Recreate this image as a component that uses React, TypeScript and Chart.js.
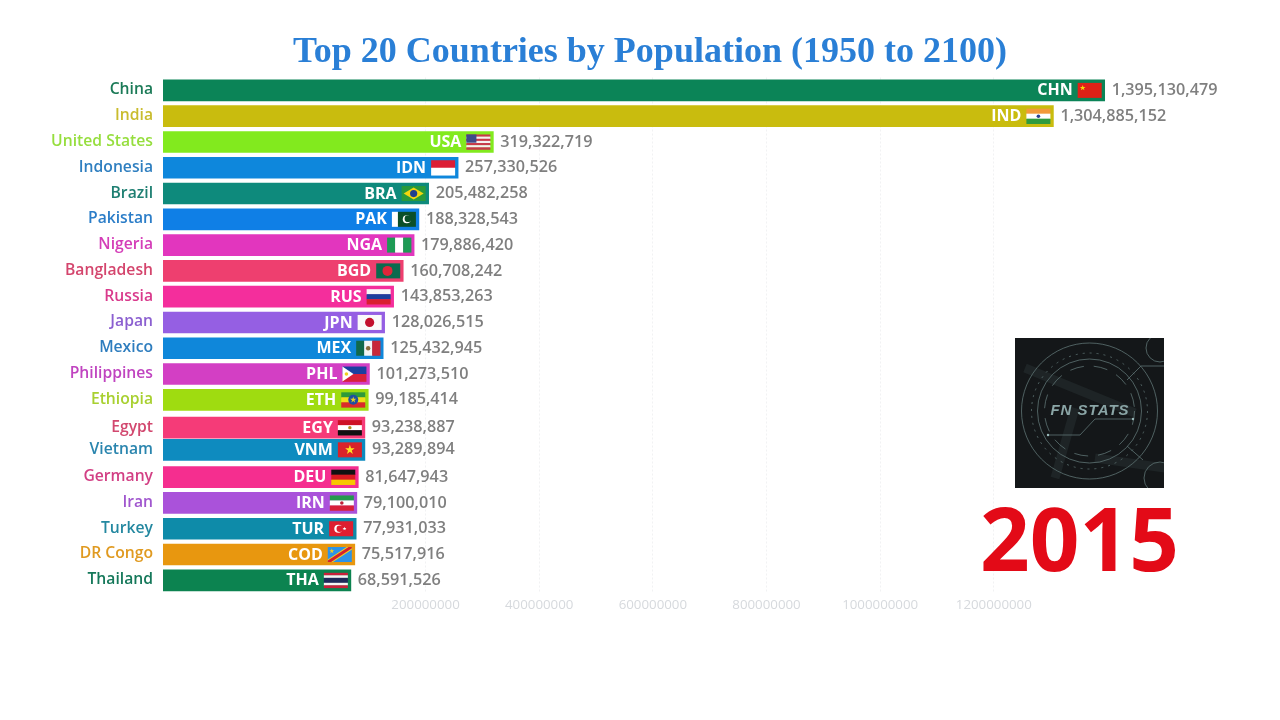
import React, { useEffect, useRef } from "react";
import { Chart, registerables } from "chart.js";

Chart.register(...registerables);

const countries = ["China","India","United States","Indonesia","Brazil","Pakistan","Nigeria","Bangladesh","Russia","Japan","Mexico","Philippines","Ethiopia","Egypt","Vietnam","Germany","Iran","Turkey","DR Congo","Thailand"];
const codes = ["CHN","IND","USA","IDN","BRA","PAK","NGA","BGD","RUS","JPN","MEX","PHL","ETH","EGY","VNM","DEU","IRN","TUR","COD","THA"];
const populations = [1395130479,1304885152,319322719,257330526,205482258,188328543,179886420,160708242,143853263,128026515,125432945,101273510,99185414,93238887,93289894,81647943,79100010,77931033,75517916,68591526];
const ranks = [1,2,3,4,5,6,7,8,9,10,11,12,13,14.08,14.94,16,17,18,19,20];
const barColors = ["#0B8457","#C9BC0E","#82EA1E","#0E87DC","#0E8A7C","#0F7FE6","#E236BE","#EE3F6F","#F42E9C","#955FE3","#0F87DA","#D33FC4","#9FDC10","#F53B78","#0E8BBF","#F52E8F","#AA52DA","#0E8BA9","#E8970F","#0C8350"];
const labelColors = ["#1B7A57","#C9BC2E","#96DE3E","#2F7FC0","#1E7F72","#2B7DC8","#D43DB8","#D4456D","#D93A8C","#8B5FD0","#2E7DBE","#C044C0","#A8D030","#D2486F","#2A85AE","#D23F84","#A056CE","#2488A0","#E09A20","#15785A"];
const axisTicks = [200000000,400000000,600000000,800000000,1000000000,1200000000];
const titleText = "Top 20 Countries by Population (1950 to 2100)";
const yearText = "2015";
const logoText = "FN STATS";
const FONT = '"Open Sans", sans-serif';

type C = CanvasRenderingContext2D;

function hs(c: C, cols: string[], x: number, y: number, w: number, h: number, weights?: number[]) {
  const wts = weights || cols.map(() => 1);
  const tot = wts.reduce((a, b) => a + b, 0);
  let p = y;
  cols.forEach((col, i) => { const d = (h * wts[i]) / tot; c.fillStyle = col; c.fillRect(x, p, w, d + 0.3); p += d; });
}
function vs(c: C, cols: string[], x: number, y: number, w: number, h: number) {
  const d = w / cols.length;
  cols.forEach((col, i) => { c.fillStyle = col; c.fillRect(x + i * d, y, d + 0.3, h); });
}
function dot(c: C, col: string, x: number, y: number, r: number) { c.fillStyle = col; c.beginPath(); c.arc(x, y, r, 0, Math.PI * 2); c.fill(); }
function star(c: C, col: string, x: number, y: number, r: number) {
  c.fillStyle = col; c.beginPath();
  for (let i = 0; i < 10; i++) { const a = -Math.PI / 2 + (i * Math.PI) / 5; const q = i % 2 ? r * 0.4 : r; c.lineTo(x + q * Math.cos(a), y + q * Math.sin(a)); }
  c.closePath(); c.fill();
}
function poly(c: C, col: string, pts: number[][]) { c.fillStyle = col; c.beginPath(); pts.forEach((p) => c.lineTo(p[0], p[1])); c.closePath(); c.fill(); }

function drawFlag(c: C, code: string, x: number, y: number, w: number, h: number) {
  const cx = x + w / 2, cy = y + h / 2;
  switch (code) {
    case "CHN": c.fillStyle = "#DE2117"; c.fillRect(x, y, w, h); star(c, "#F5D90A", x + 5, y + 5, 3); break;
    case "IND": hs(c, ["#F29A3A", "#FFFFFF", "#2E9B3E"], x, y, w, h); dot(c, "#2A3F8F", cx, cy, 1.8); break;
    case "USA": hs(c, ["#C8384A", "#F5F0F0", "#C8384A", "#F5F0F0", "#C8384A", "#F5F0F0", "#C8384A"], x, y, w, h); c.fillStyle = "#3F4A8A"; c.fillRect(x, y, w * 0.42, h * 0.55); break;
    case "IDN": hs(c, ["#DC1E35", "#FFFFFF"], x, y, w, h); break;
    case "BRA": c.fillStyle = "#2A9A3A"; c.fillRect(x, y, w, h); poly(c, "#F3D60F", [[x + 2, cy], [cx, y + 1.5], [x + w - 2, cy], [cx, y + h - 1.5]]); dot(c, "#1F3F8F", cx, cy, 3.6); break;
    case "PAK": vs(c, ["#FFFFFF"], x, y, w * 0.25, h); c.fillStyle = "#0B4F2A"; c.fillRect(x + w * 0.25, y, w * 0.75, h); dot(c, "#FFFFFF", x + w * 0.62, cy, 4); dot(c, "#0B4F2A", x + w * 0.67, cy - 0.6, 3.4); break;
    case "NGA": vs(c, ["#1E9A55", "#FFFFFF", "#1E9A55"], x, y, w, h); break;
    case "BGD": c.fillStyle = "#0B6A4E"; c.fillRect(x, y, w, h); dot(c, "#E0263A", x + w * 0.47, cy, 5); break;
    case "RUS": hs(c, ["#F7F7F7", "#1B3F9C", "#D92030"], x, y, w, h); break;
    case "JPN": c.fillStyle = "#FAFAFA"; c.fillRect(x, y, w, h); dot(c, "#C2102E", cx, cy, 4.6); break;
    case "MEX": vs(c, ["#11694A", "#F4F4F4", "#C7283A"], x, y, w, h); dot(c, "#8A6A3A", cx, cy, 2.2); break;
    case "PHL": hs(c, ["#1B3FA0", "#D8203A"], x, y, w, h); poly(c, "#FFFFFF", [[x, y], [x + w * 0.46, cy], [x, y + h]]); dot(c, "#F0D020", x + 4, cy, 1.8); break;
    case "ETH": hs(c, ["#2E9A3A", "#F2DE1A", "#DA2A2A"], x, y, w, h); dot(c, "#1E4FA0", cx, cy, 5); star(c, "#E8D020", cx, cy, 3.2); break;
    case "EGY": hs(c, ["#CE1126", "#FFFFFF", "#111111"], x, y, w, h); dot(c, "#B08A20", cx, cy, 1.7); break;
    case "VNM": c.fillStyle = "#D8232A"; c.fillRect(x, y, w, h); star(c, "#FBE122", cx, cy, 5); break;
    case "DEU": hs(c, ["#111111", "#D91A20", "#F7C600"], x, y, w, h); break;
    case "IRN": hs(c, ["#259A4E", "#FFFFFF", "#D8203A"], x, y, w, h); dot(c, "#C0203A", cx, cy, 1.8); break;
    case "TUR": c.fillStyle = "#DE1E30"; c.fillRect(x, y, w, h); dot(c, "#FFFFFF", x + w * 0.38, cy, 4); dot(c, "#DE1E30", x + w * 0.44, cy, 3.2); star(c, "#FFFFFF", x + w * 0.64, cy, 2); break;
    case "COD":
      c.fillStyle = "#2D93E8"; c.fillRect(x, y, w, h);
      c.save(); c.beginPath(); c.rect(x, y, w, h); c.clip();
      c.strokeStyle = "#F5D020"; c.lineWidth = 5; c.beginPath(); c.moveTo(x - 1, y + h + 1); c.lineTo(x + w + 1, y - 1); c.stroke();
      c.strokeStyle = "#D3202E"; c.lineWidth = 3; c.beginPath(); c.moveTo(x - 1, y + h + 1); c.lineTo(x + w + 1, y - 1); c.stroke();
      c.restore(); star(c, "#F5D020", x + 4, y + 4, 2.6); break;
    case "THA": hs(c, ["#C8203A", "#F5F5F5", "#1E2A5A", "#F5F5F5", "#C8203A"], x, y, w, h, [1, 1, 2, 1, 1]); break;
  }
}

const barAnnotations = {
  id: "barAnnotations",
  afterDatasetsDraw(chart: any) {
    const c: C = chart.ctx;
    const meta = chart.getDatasetMeta(0);
    c.save();
    meta.data.forEach((el: any, i: number) => {
      const bx = el.x, by = el.y;
      const fw = 24, fh = 15;
      const fx = bx - 3 - fw;
      drawFlag(c, codes[i], fx, by - fh / 2, fw, fh);
      c.textBaseline = "middle";
      c.textAlign = "right";
      c.fillStyle = "#FFFFFF";
      c.font = `bold 16px ${FONT}`;
      c.fillText(codes[i], fx - 5, by + 0.5);
      c.textAlign = "left";
      c.fillStyle = "#7F7F7F";
      c.font = `600 16.2px ${FONT}`;
      c.fillText(populations[i].toLocaleString("en-US"), bx + 7, by);
    });
    c.restore();
  },
};

const decorations = {
  id: "decorations",
  afterDraw(chart: any) {
    const c: C = chart.ctx;
    c.save();
    const x = 1015, y = 338, s = 149;
    const cx = x + s * 0.5, cy = y + s * 0.49;
    c.fillStyle = "#141719";
    c.fillRect(x, y, s, s + 1);
    c.save(); c.beginPath(); c.rect(x, y, s, s + 1); c.clip();
    c.strokeStyle = "rgba(70,90,90,0.2)"; c.lineWidth = 9;
    c.beginPath(); c.moveTo(x + 10, y + 30); c.lineTo(x + 120, y + 75); c.moveTo(x + 40, y + 140); c.lineTo(x + 60, y + 70); c.moveTo(x + 80, y + 120); c.lineTo(x + 150, y + 130); c.stroke();
    c.strokeStyle = "#5E7474"; c.lineWidth = 0.8;
    [[68, []], [58, [2, 5]], [52, []], [45, [14, 10]]].forEach(([r, d]: any) => { c.setLineDash(d); c.beginPath(); c.arc(cx, cy, r, 0, Math.PI * 2); c.stroke(); });
    c.setLineDash([]);
    c.beginPath(); c.moveTo(x + 33, y + 97); c.lineTo(x + 65, y + 97); c.lineTo(x + 80, y + 81); c.lineTo(x + 118, y + 81); c.stroke();
    dot(c, "#9ABABA", x + 33, y + 97, 1.2); dot(c, "#9ABABA", x + 118, y + 81, 1.2);
    c.beginPath(); c.moveTo(x + 112, y + 42); c.lineTo(x + 126, y + 28); c.lineTo(x + 149, y + 28); c.moveTo(x + 112, y + 108); c.lineTo(x + 128, y + 122); c.stroke();
    c.beginPath(); c.arc(x + 145, y + 10, 14, 0, Math.PI * 2); c.stroke();
    c.beginPath(); c.arc(x + 145, y + 140, 16, 0, Math.PI * 2); c.stroke();
    c.restore();
    c.fillStyle = "#8AA5A6"; c.textAlign = "center"; c.textBaseline = "middle";
    c.font = `italic bold 15px "Liberation Sans", sans-serif`;
    (c as any).letterSpacing = "1px";
    c.fillText(logoText, x + 75, y + 72.5);
    (c as any).letterSpacing = "0px";
    c.fillStyle = "#E30A17";
    c.font = `bold 87px ${FONT}`;
    c.textAlign = "center"; c.textBaseline = "alphabetic";
    c.fillText(yearText, 1079.5, 571);
    c.restore();
  },
};

const noPadding = (s: any) => { s.paddingTop = 0; s.paddingBottom = 0; s.paddingLeft = 0; s.paddingRight = 0; };

export default function App() {
  const ref = useRef<HTMLCanvasElement>(null);
  useEffect(() => {
    const chart = new Chart(ref.current as HTMLCanvasElement, {
      type: "bar",
      data: {
        datasets: [{
          data: populations.map((v, i) => ({ x: v, y: ranks[i] })),
          backgroundColor: barColors,
          borderWidth: 0,
          barThickness: 21,
          base: -262000000,
        } as any],
      },
      options: {
        indexAxis: "y",
        responsive: false,
        animation: false,
        layout: { padding: { right: 143 } },
        plugins: {
          legend: { display: false },
          tooltip: { enabled: false },
          title: {
            display: true,
            text: titleText,
            fullSize: false,
            color: "#2A7FD6",
            font: { family: '"Liberation Serif", serif', size: 36, weight: "bold" },
            padding: { top: 31.4, bottom: 2.9 },
          },
        },
        scales: {
          x: {
            type: "linear",
            min: -262000000,
            max: 1452000000,
            afterBuildTicks: (s: any) => { s.ticks = axisTicks.map((value) => ({ value })); },
            afterFit: (s: any) => { s.height = 126.8; noPadding(s); },
            grid: { color: "#F1F2F3", drawTicks: false, tickBorderDash: [2, 2] },
            border: { display: false, dash: [2, 2] },
            ticks: {
              color: "#D6D9DD",
              padding: 4.5,
              maxRotation: 0,
              autoSkip: false,
              font: { family: FONT, size: 13.3 },
              callback: (v: any) => String(v),
            },
          },
          y: {
            type: "linear",
            offset: false,
            reverse: true,
            min: 0.5,
            max: 20.5,
            afterBuildTicks: (s: any) => { s.ticks = ranks.map((value) => ({ value })); },
            afterFit: (s: any) => { s.width = 163; noPadding(s); },
            grid: { display: false, drawTicks: false, offset: false },
            border: { display: false },
            ticks: {
              autoSkip: false,
              padding: 10,
              labelOffset: -0.5,
              color: (ctx: any) => labelColors[ctx.index],
              font: { family: FONT, size: 15.7, weight: 600 },
              callback: (_v: any, i: number) => countries[i],
            },
          },
        },
      } as any,
      plugins: [barAnnotations, decorations],
    });
    return () => chart.destroy();
  }, []);
  return (
    <div style={{ position: "fixed", left: 0, top: 0, width: 1280, height: 720, background: "#fff" }}>
      <canvas ref={ref} width={1280} height={720} style={{ display: "block" }} />
    </div>
  );
}
